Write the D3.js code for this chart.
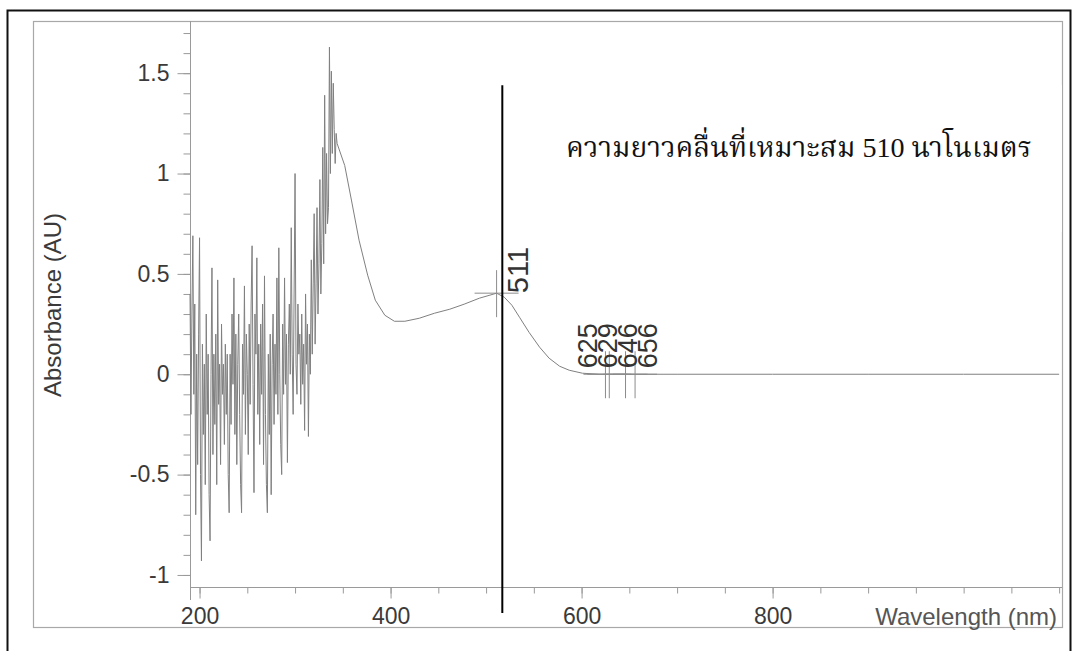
<!DOCTYPE html>
<html>
<head>
<meta charset="utf-8">
<script src="https://cdn.jsdelivr.net/npm/d3@7"></script>
<style>
  body { margin: 0; background: #ffffff; }
  svg { display: block; }
</style>
</head>
<body>
<svg id="chart" width="1077" height="651"></svg>
<script>
// Absorbance spectrum: wavelength (nm) and absorbance (AU)
const wavelength = [
  190,191,192,193,194,195,196,197,198,199,200,201,202,203,204,205,206,207,208,209,
  210,211,212,213,214,215,216,217,218,219,220,221,222,223,224,225,226,227,228,229,
  230,231,232,233,234,235,236,237,238,239,240,241,242,243,244,245,246,247,248,249,
  250,251,252,253,254,255,256,257,258,259,260,261,262,263,264,265,266,267,268,269,
  270,271,272,273,274,275,276,277,278,279,280,281,282,283,284,285,286,287,288,289,
  290,291,292,293,294,295,296,297,298,299,300,301,302,303,304,305,306,307,308,309,
  310,311,312,313,314,315,316,317,318,319,320,321,322,323,324,325,326,327,328,329,
  330,331,332,333,334,335,336,337,338,339,340,341,342,343,344,
  352,359,367,376,384,394,404,415,430,446,462,477,493,504,511,519,527,535,545,556,
  566,577,587,601,619,700,800,900,1000,1100
];
const absorbance = [
  0.40,-0.20,0.30,0.69,-0.10,0.35,-0.70,0.10,-0.45,0.20,0.68,-0.50,-0.93,0.15,-0.30,0.05,-0.55,0.30,-0.20,0.10,
  -0.60,-0.83,0.00,0.53,-0.40,0.10,-0.25,0.20,-0.55,0.47,-0.15,0.05,-0.45,0.25,-0.10,0.05,-0.35,0.15,-0.20,0.10,
  -0.50,-0.69,0.10,-0.25,0.30,-0.05,0.48,-0.30,0.20,-0.45,0.05,0.30,-0.20,-0.55,-0.69,0.15,-0.10,0.44,-0.30,0.20,
  0.00,-0.40,0.25,-0.15,0.35,0.64,-0.05,-0.59,0.30,0.10,0.58,-0.20,0.15,-0.35,0.25,-0.10,0.35,-0.45,0.49,-0.20,
  -0.55,-0.69,0.10,-0.30,0.20,-0.60,0.05,0.30,-0.25,0.15,-0.10,0.48,-0.20,0.63,0.00,-0.35,-0.50,0.25,-0.10,0.48,
  -0.05,0.20,-0.44,0.15,0.35,0.00,0.73,0.10,-0.20,0.40,1.00,0.05,-0.10,0.35,0.10,0.20,-0.15,0.30,-0.05,0.15,
  -0.28,0.40,0.05,0.25,-0.31,0.20,0.00,0.57,0.10,0.45,0.80,0.15,0.45,0.83,0.30,0.55,0.97,0.40,0.65,1.13,
  0.55,1.39,0.70,1.10,0.75,0.83,1.63,1.00,1.51,1.10,1.45,1.22,1.05,1.20,1.15,
  1.04,0.868,0.668,0.494,0.369,0.294,0.264,0.264,0.279,0.304,0.324,0.349,0.379,0.394,0.404,0.384,0.344,0.284,0.209,0.135,
  0.080,0.040,0.020,0.005,0.0,0.0,0.0,0.0,0.0,0.0
];

// Detected peaks
const peakWavelength = [511, 625, 629, 646, 656];
const peakAbsorbance = [0.404, 0.0, 0.0, 0.0, 0.0];
const peakLabel = ["511", "625", "629", "646", "656"];

// Axis ticks
const xTicks = [200, 400, 600, 800];
const xTickLabels = ["200", "400", "600", "800"];
const yTicks = [-1, -0.5, 0, 0.5, 1, 1.5];
const yTickLabels = ["-1", "-0.5", "0", "0.5", "1", "1.5"];
const xMinorTicks = d3.range(200, 1101, 50);
const yMinorTicks = d3.range(-10, 18).map(d => d / 10);

// Chosen-wavelength marker line and its note
const markerWavelength = [517];
const markerRange = [-1.19, 1.44];
const noteText = "ความยาวคลื่นที่เหมาะสม 510 นาโนเมตร";

const svg = d3.select("#chart");

const x = d3.scaleLinear().domain([190, 1103]).range([190, 1062]);
const y = d3.scaleLinear().domain([-1.06, 1.76]).range([587, 21]);

// Page border and chart frame
svg.append("path")
  .attr("d", "M7.5,651 V10.5 H1070.5 V651")
  .attr("fill", "none").attr("stroke", "#111").attr("stroke-width", 2);
svg.append("rect")
  .attr("x", 33.5).attr("y", 21.5).attr("width", 1029).attr("height", 606)
  .attr("fill", "none").attr("stroke", "#a8a8a8").attr("stroke-width", 1.2);

const axisColor = "#9a9a9a";
const textColor = "#3a3a3a";

// Y axis
const yAxis = svg.append("g").attr("transform", "translate(190.5,0)")
  .call(d3.axisLeft(y).tickValues(yTicks).tickSize(13).tickPadding(8)
    .tickFormat((d, i) => yTickLabels[i]));
svg.append("g").attr("transform", "translate(190.5,0)")
  .call(d3.axisLeft(y).tickValues(yMinorTicks).tickSize(7).tickFormat(""))
  .select(".domain").remove();
yAxis.select(".domain").attr("d", "M0,21V600");

// X axis
const xAxis = svg.append("g").attr("transform", "translate(0,587.5)")
  .call(d3.axisBottom(x).tickValues(xTicks).tickSize(11).tickPadding(9)
    .tickFormat((d, i) => xTickLabels[i]));
svg.append("g").attr("transform", "translate(0,587.5)")
  .call(d3.axisBottom(x).tickValues(xMinorTicks).tickSize(6).tickFormat(""))
  .select(".domain").remove();
xAxis.select(".domain").attr("d", "M190,0H1062");

svg.selectAll(".tick line, .domain").attr("stroke", axisColor);
svg.selectAll(".tick text")
  .attr("fill", textColor)
  .attr("font-family", "'Liberation Sans', Arial, sans-serif")
  .attr("font-size", 23);

// Axis titles
svg.append("text")
  .attr("transform", "translate(61,305) rotate(-90)")
  .attr("text-anchor", "middle")
  .attr("fill", textColor)
  .attr("font-family", "'Liberation Sans', Arial, sans-serif")
  .attr("font-size", 24)
  .text("Absorbance (AU)");
svg.append("text")
  .attr("x", 1057).attr("y", 625)
  .attr("text-anchor", "end")
  .attr("fill", "#555")
  .attr("font-family", "'Liberation Sans', Arial, sans-serif")
  .attr("font-size", 24)
  .text("Wavelength (nm)");

// Spectrum trace
const points = wavelength.map((w, i) => [w, absorbance[i]]);
svg.append("path")
  .datum(points)
  .attr("fill", "none")
  .attr("stroke", "#808080")
  .attr("stroke-width", 1)
  .attr("d", d3.line().x(d => x(d[0])).y(d => y(d[1])));

// Peak crosshairs
const peaks = peakWavelength.map((w, i) => ({ w, a: peakAbsorbance[i], label: peakLabel[i] }));
const cross = svg.append("g").attr("stroke", "#8c8c8c").attr("stroke-width", 1);
peaks.forEach(p => {
  const px = x(p.w), py = y(p.a);
  cross.append("line").attr("x1", px - 22).attr("x2", px + 22).attr("y1", py).attr("y2", py);
  cross.append("line").attr("x1", px).attr("x2", px).attr("y1", py - 23).attr("y2", py + 24);
});

// Peak labels, shifted right so neighbouring labels do not collide
let lastX = -Infinity;
peaks.forEach((p, i) => {
  const size = i === 0 ? 29 : 27;
  let lx = i === 0 ? x(p.w) + 31 : x(p.w) - 8;
  if (lx < lastX + 20) lx = lastX + 20;
  lastX = lx;
  svg.append("text")
    .attr("transform", `translate(${lx},${y(p.a) - (i === 0 ? 0 : 6)}) rotate(-90)`)
    .attr("fill", "#333")
    .attr("font-family", "'Liberation Sans', Arial, sans-serif")
    .attr("font-size", size)
    .text(p.label);
});

// Note box with the chosen wavelength
svg.append("rect")
  .attr("x", 547).attr("y", 85).attr("width", 515).attr("height", 147)
  .attr("fill", "#ffffff");
const note = svg.append("text")
  .attr("x", 566).attr("y", 157)
  .attr("fill", "#111")
  .attr("font-family", "'Liberation Serif', 'Noto Serif Thai', 'Noto Sans Thai', serif")
  .attr("font-size", 31)
  .text(noteText);
// Fit the note to the box width
const noteWidth = note.node().getComputedTextLength();
if (noteWidth > 466) note.attr("font-size", 31 * 466 / noteWidth);

// Marker line at the chosen wavelength
svg.append("line")
  .attr("x1", x(markerWavelength[0])).attr("x2", x(markerWavelength[0]))
  .attr("y1", y(markerRange[0])).attr("y2", y(markerRange[1]))
  .attr("stroke", "#000").attr("stroke-width", 2);
</script>
</body>
</html>
